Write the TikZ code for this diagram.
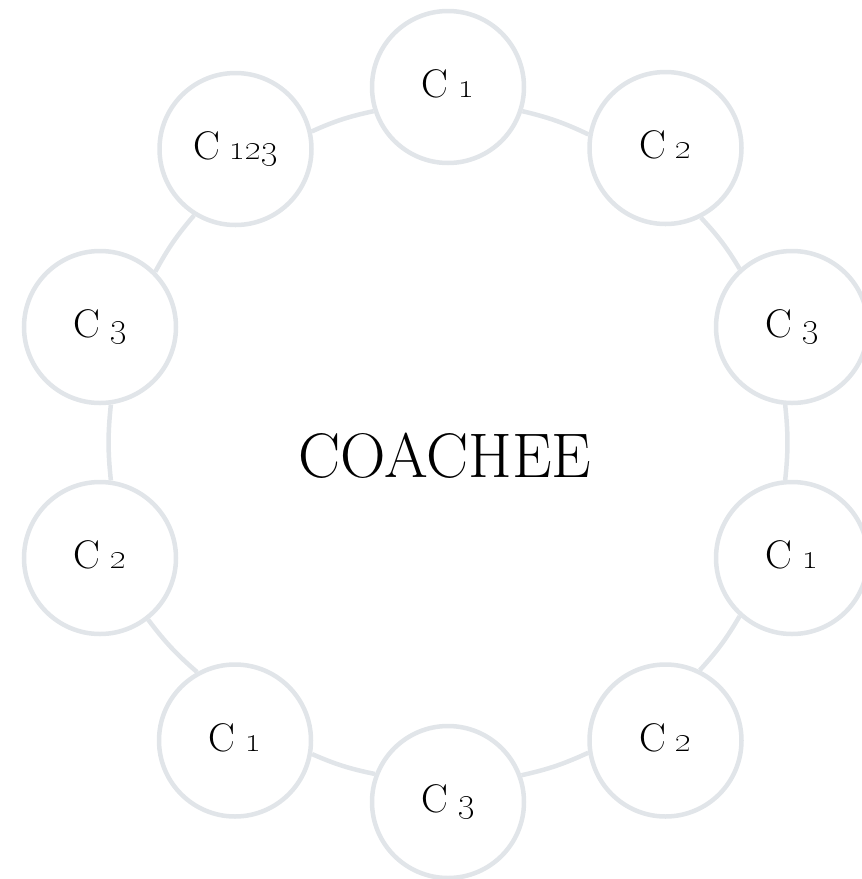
\documentclass[tikz,border=0pt]{standalone}
\definecolor{ringgray}{RGB}{225,229,233}
\newcommand\numsize{\fontsize{36}{40}\selectfont}
\newcommand\osA{{\numsize\textoneoldstyle}}
\newcommand\osB{{\numsize\texttwooldstyle}}
\newcommand\osC{{\numsize\textthreeoldstyle}}
\newcommand\cgap{\hspace{10pt}}
\begin{document}
\begin{tikzpicture}[x=1pt,y=-1pt,
  cnode/.style={circle, draw=ringgray, line width=4.5pt, fill=white,
    minimum size=152pt, inner sep=0pt, text height=27pt, text depth=6pt,
    font=\fontsize{40}{44}\selectfont},
  link/.style={draw=ringgray, line width=4.5pt},
  title/.style={font=\fontsize{63}{70}\selectfont, inner sep=0pt, anchor=base}
]
\useasboundingbox (0,0) rectangle (862,879);
\node[cnode] (n1) at (448,87) {C\cgap\osA};
\node[cnode] (n2) at (665.5,148) {C\cgap\osB};
\node[cnode] (n3) at (792,327) {C\cgap\osC};
\node[cnode] (n4) at (792,558) {C\cgap\osA};
\node[cnode] (n5) at (665.5,740.5) {C\cgap\osB};
\node[cnode] (n6) at (448,802) {C\cgap\osC};
\node[cnode] (n7) at (235,740.5) {C\cgap\osA};
\node[cnode] (n8) at (100,558) {C\cgap\osB};
\node[cnode] (n9) at (100,327) {C\cgap\osC};
\node[cnode] (n10) at (235.5,149) {C\cgap\osA\osB\osC};
\draw[link] (n1.-18.2) to[bend left=6] (n2.170);
\draw[link] (n2.-63) to[bend left=6] (n3.132.8);
\draw[link] (n3.-95.6) to[bend left=6] (n4.95.7);
\draw[link] (n4.-132.5) to[bend left=6] (n5.64.3);
\draw[link] (n5.-171.7) to[bend left=6] (n6.20.6);
\draw[link] (n6.159.8) to[bend left=6] (n7.-10.55);
\draw[link] (n7.119.55) to[bend left=6] (n8.-52.3);
\draw[link] (n8.82.9) to[bend left=6] (n9.-82.8);
\draw[link] (n9.45.8) to[bend left=6] (n10.238.4);
\draw[link] (n10.13) to[bend left=6] (n1.198.2);
\node[title] (coachee) at (445,477) {COACHEE};
\end{tikzpicture}
\end{document}
